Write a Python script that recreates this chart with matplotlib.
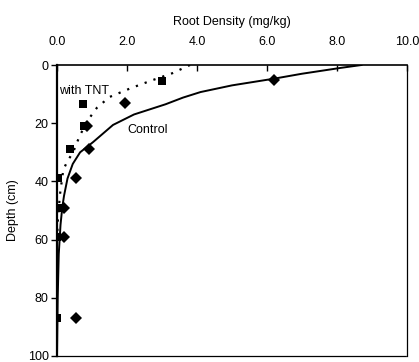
import matplotlib
matplotlib.use("Agg")
import matplotlib.pyplot as plt

plt.rcParams['font.family'] = ['Liberation Sans', 'DejaVu Sans']

# Observed data (root density mg/kg vs depth cm)
control_depth = [5, 13, 21, 29, 39, 49, 59, 87]
control_density = [6.2, 1.95, 0.85, 0.9, 0.55, 0.2, 0.2, 0.55]
tnt_depth = [5.5, 13.5, 21, 29, 39, 49, 59, 87]
tnt_density = [3.0, 0.75, 0.77, 0.37, 0.03, 0.03, 0.0, 0.0]

# Fitted curves
control_fit_x = [8.7, 8.1, 7.0, 6.2, 5.0, 4.1, 3.6, 3.1, 2.2, 1.6, 1.03, 0.66, 0.45, 0.3, 0.2, 0.15, 0.1, 0.05, 0.02, 0.0]
control_fit_y = [0, 1, 3, 4.7, 7, 9.3, 11.2, 13.5, 17, 20.6, 26.5, 30, 34, 39, 45, 49, 55, 65, 80, 100]
tnt_fit_x = [3.8, 3.3, 2.66, 2.1, 1.5, 1.14, 0.94, 0.66, 0.46, 0.3, 0.18, 0.09, 0.03, 0.0]
tnt_fit_y = [0, 2.8, 5.5, 8, 11, 14.7, 18, 24, 30, 33, 36, 44, 52, 60]

xticks = [0, 2, 4, 6, 8, 10]
xticklabels = ['0.0', '2.0', '4.0', '6.0', '8.0', '10.0']
yticks = [0, 20, 40, 60, 80, 100]

fs = 9

fig = plt.figure(figsize=(4.19, 3.62), dpi=100)
ax = fig.add_axes([57/419, 1-356/362, 350/419, 291/362])

ax.plot(control_fit_x, control_fit_y, color='black', lw=1.4)
ax.plot(tnt_fit_x, tnt_fit_y, color='black', lw=1.6, linestyle=(0, (1, 3.2)))
ax.plot(control_density, control_depth, 'D', color='black', ms=6, mew=0)
ax.plot(tnt_density, tnt_depth, 's', color='black', ms=5.5, mew=0)

ax.set_xlim(0, 10)
ax.set_ylim(100, 0)
ax.xaxis.tick_top()
ax.xaxis.set_label_position('top')
ax.set_xticks(xticks)
ax.set_xticklabels(xticklabels)
ax.set_yticks(yticks)
ax.tick_params(axis='x', direction='in', length=4, width=1, labelsize=fs, pad=12)
ax.tick_params(axis='y', direction='out', length=4, width=1, labelsize=fs, pad=2)
ax.set_xlabel('Root Density (mg/kg)', fontsize=fs, labelpad=8)
ax.set_ylabel('Depth (cm)', fontsize=fs, labelpad=6)
ax.spines['left'].set_linewidth(1.6)
ax.spines['top'].set_linewidth(1.2)
ax.spines['right'].set_linewidth(0.9)
ax.spines['bottom'].set_linewidth(0.9)
ax.spines['bottom'].set_linestyle((0, (6, 1)))

ax.text(0.05, 9, 'with TNT', fontsize=fs, ha='left', va='center')
ax.text(2.0, 22.5, 'Control', fontsize=fs, ha='left', va='center')

fig.savefig('out.png', dpi=100)
